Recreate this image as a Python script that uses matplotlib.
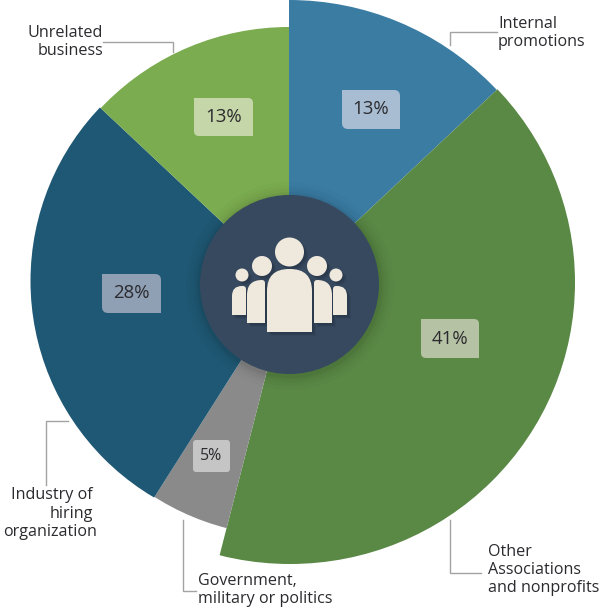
import numpy as np
import matplotlib
matplotlib.use("Agg")
import matplotlib.pyplot as plt
from matplotlib.patches import Wedge, Circle, Ellipse, PathPatch
from matplotlib.path import Path

categories = ["Internal promotions", "Other Associations and nonprofits",
	"Government, military or politics", "Industry of hiring organization", "Unrelated business"]
shares = [13, 41, 5, 28, 13]
share_labels = ["13%", "41%", "5%", "28%", "13%"]


def corner_box(x0, y0, x1, y1, r):
	# r = radius of corners top-left, top-right, bottom-right, bottom-left
	tl, tr, br, bl = r
	verts = [(x0 + tl, y0), (x1 - tr, y0), (x1, y0), (x1, y0 + tr),
		(x1, y1 - br), (x1, y1), (x1 - br, y1),
		(x0 + bl, y1), (x0, y1), (x0, y1 - bl),
		(x0, y0 + tl), (x0, y0), (x0 + tl, y0), (x0 + tl, y0)]
	codes = [Path.MOVETO, Path.LINETO, Path.CURVE3, Path.CURVE3,
		Path.LINETO, Path.CURVE3, Path.CURVE3,
		Path.LINETO, Path.CURVE3, Path.CURVE3,
		Path.LINETO, Path.CURVE3, Path.CURVE3, Path.CLOSEPOLY]
	return Path(verts, codes)


fig = plt.figure(figsize=(6.0, 6.08), dpi=100)
ax = fig.add_axes([0, 0, 1, 1])
ax.set_xlim(0, 600)
ax.set_ylim(608, 0)
ax.axis("off")

plt.rcParams["font.family"] = ["Open Sans", "DejaVu Sans"]

# slice order clockwise from north, y axis is flipped so angles run clockwise
colors = ["#3b7ca3", "#5a8845", "#8a8a8a", "#1f5874", "#7bac4f"]
outlines = [((289, 285), 285, 285), ((290, 282.4), 285, 281.6), ((289, 285), 251, 251),
	((282, 281), 251.5, 251.5), ((289, 286), 259, 259)]
edges = np.cumsum([0] + shares) / sum(shares) * 360 - 90

for i, c in enumerate(colors):
	sector = Wedge((289, 285), 420, edges[i], edges[i + 1], fc="none", ec="none", transform=ax.transData)
	ax.add_patch(sector)
	disc = Ellipse(outlines[i][0], outlines[i][1] * 2, outlines[i][2] * 2, fc=c, ec="none", zorder=2)
	ax.add_patch(disc)
	disc.set_clip_path(sector)

# soft shadow round the hub
for r, a in zip([104, 100, 97, 94, 92], [0.012, 0.018, 0.025, 0.03, 0.04]):
	ax.add_patch(Circle((290, 286), r, fc="black", ec="none", alpha=a, zorder=3))
ax.add_patch(Circle((289.5, 284.5), 89.5, fc="#36495f", ec="none", zorder=4))

# people icon: head, r, body x0 x1 top bottom, body corners, shadows first
icon = "#efe9dd"
people = [((242, 275), 6.5, 232, 246, 286, 315, (10, 3, 0, 0)), ((336, 275), 6.5, 333, 347, 286, 315, (3, 10, 0, 0)),
	((262, 266), 10, 247, 265, 280, 323, (15, 3, 0, 0)), ((317, 266), 10, 314, 332, 280, 323, (3, 15, 0, 0)),
	((289.5, 252), 14.5, 267, 312, 269, 332, (22, 22, 0, 0))]
for head, rh, x0, x1, top, bottom, rad in people:
	for d, a in zip([4, 3, 2], [0.05, 0.06, 0.08]):
		ax.add_patch(Circle((head[0] + d, head[1] + d), rh, fc="black", ec="none", alpha=a, zorder=5))
		ax.add_patch(PathPatch(corner_box(x0 + d, top + d, x1 + d, bottom + d, rad),
			fc="black", ec="none", alpha=a, zorder=5))
for head, rh, x0, x1, top, bottom, rad in people:
	ax.add_patch(Circle(head, rh, fc=icon, ec="none", zorder=6))
	ax.add_patch(PathPatch(corner_box(x0, top, x1, bottom, rad), fc=icon, ec="none", zorder=6))

# percent tags
tags = [(342, 90, 400, 129, "#a8bdd2", (0, 6, 0, 6)),
	(421, 319, 479, 358, "#b5c3a4", (0, 5, 0, 5)),
	(193, 440, 230, 472, "#c5c5c5", (3, 3, 3, 3)),
	(102, 274, 161, 313, "#8f9fb4", (0, 6, 0, 6)),
	(194, 98, 253, 136, "#c5d6a8", (0, 5, 0, 5))]
for (x0, y0, x1, y1, fc, r), lab in zip(tags, share_labels):
	ax.add_patch(PathPatch(corner_box(x0, y0, x1, y1, r), fc=fc, ec="none", zorder=7))
	ax.text((x0 + x1) / 2, (y0 + y1) / 2, lab, ha="center", va="center",
		fontsize=13.4 if lab != "5%" else 11.4, color="#2b2a2e", zorder=8)

# leader lines
leaders = [[(450, 45), (450, 32), (497, 32)],
	[(103, 42), (173, 42), (173, 52)],
	[(68, 421), (46, 421), (46, 485)],
	[(183, 520), (183, 591), (196, 591)],
	[(450, 520), (450, 573), (481, 573)]]
for pts in leaders:
	xs, ys = zip(*pts)
	ax.plot(xs, ys, color="#a3a3a3", lw=1, solid_joinstyle="miter", zorder=1)

# outer labels
font = 11.6
txt = "#2b2a2e"
ax.text(498, 24, "Internal", fontsize=font, color=txt, va="center")
ax.text(498, 42, "promotions", fontsize=font, color=txt, va="center")
ax.text(103, 33, "Unrelated", fontsize=font, color=txt, va="center", ha="right")
ax.text(103, 51, "business", fontsize=font, color=txt, va="center", ha="right")
ax.text(93, 495, "Industry of", fontsize=font, color=txt, va="center", ha="right")
ax.text(93, 514, "hiring", fontsize=font, color=txt, va="center", ha="right")
ax.text(97, 532, "organization", fontsize=font, color=txt, va="center", ha="right")
ax.text(198, 581, "Government,", fontsize=font, color=txt, va="center")
ax.text(198, 599, "military or politics", fontsize=font, color=txt, va="center")
ax.text(488, 552, "Other", fontsize=font, color=txt, va="center")
ax.text(488, 570, "Associations", fontsize=font, color=txt, va="center")
ax.text(488, 588, "and nonprofits", fontsize=font, color=txt, va="center")

fig.savefig("out.png", dpi=100)
